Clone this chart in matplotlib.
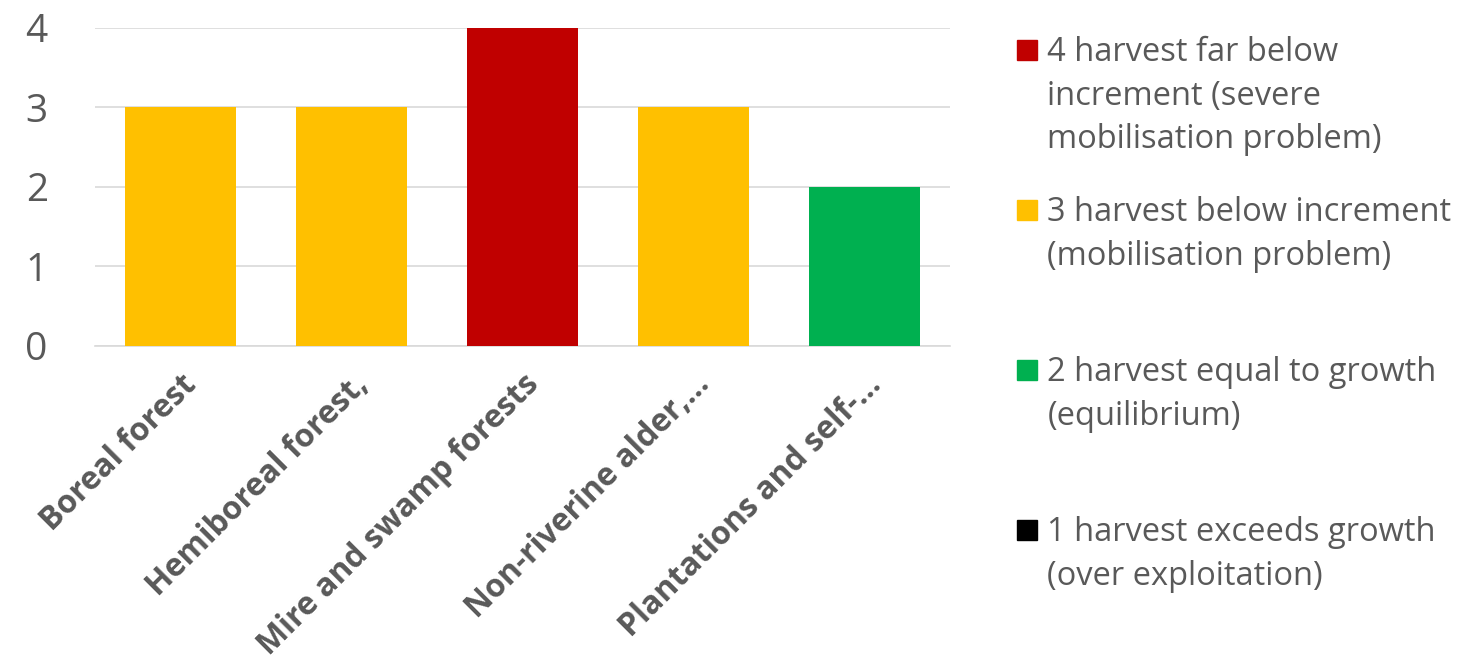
import matplotlib.pyplot as plt
from matplotlib.patches import Rectangle

categories = ["Boreal forest", "Hemiboreal forest,", "Mire and swamp forests",
              "Non-riverine alder,\u2026", "Plantations and self-\u2026"]
values = [3, 3, 4, 3, 2]
bar_colors = ["#FFC000", "#FFC000", "#C00000", "#FFC000", "#00B050"]

legend_labels = [
    "4 harvest far below\nincrement (severe\nmobilisation problem)",
    "3 harvest below increment\n(mobilisation problem)",
    "2 harvest equal to growth\n(equilibrium)",
    "1 harvest exceeds growth\n(over exploitation)",
]
legend_colors = ["#C00000", "#FFC000", "#00B050", "#000000"]

text_color = "#595959"
plt.rcParams["font.family"] = ["Open Sans", "DejaVu Sans"]

fig = plt.figure(figsize=(14.73, 6.6), dpi=100)
ax = fig.add_axes([0.0645, 0.4758, 0.5805, 0.4818])

ax.bar(range(len(values)), values, width=0.65, color=bar_colors, zorder=3)
ax.set_xlim(-0.5, len(values) - 0.5)
ax.set_ylim(0, 4)
ax.set_yticks([0, 1, 2, 3, 4])
ax.grid(axis="y", color="#D9D9D9", linewidth=1.2, zorder=0)
for s in ["top", "right", "left"]:
    ax.spines[s].set_visible(False)
ax.spines["bottom"].set_color("#D9D9D9")
ax.spines["bottom"].set_linewidth(1.2)
ax.tick_params(axis="both", length=0, colors=text_color)
ax.tick_params(axis="y", labelsize=28, pad=34)
ax.set_xticks(range(len(categories)))
ax.set_xticklabels(categories, rotation=45, ha="right", rotation_mode="anchor",
                   fontsize=23, fontweight="bold", color=text_color)
ax.tick_params(axis="x", pad=16)

# legend drawn by hand so the square sits at the first line
y_tops = [0.924, 0.682, 0.439, 0.197]
for lab, col, y in zip(legend_labels, legend_colors, y_tops):
    fig.patches.append(Rectangle((0.6905, y - 0.015), 0.0136, 0.030,
                                 transform=fig.transFigure, color=col))
    fig.text(0.711, y + 0.021, lab, fontsize=23.5, color=text_color,
             va="top", ha="left", linespacing=1.42)

fig.savefig("out.png", dpi=100)
